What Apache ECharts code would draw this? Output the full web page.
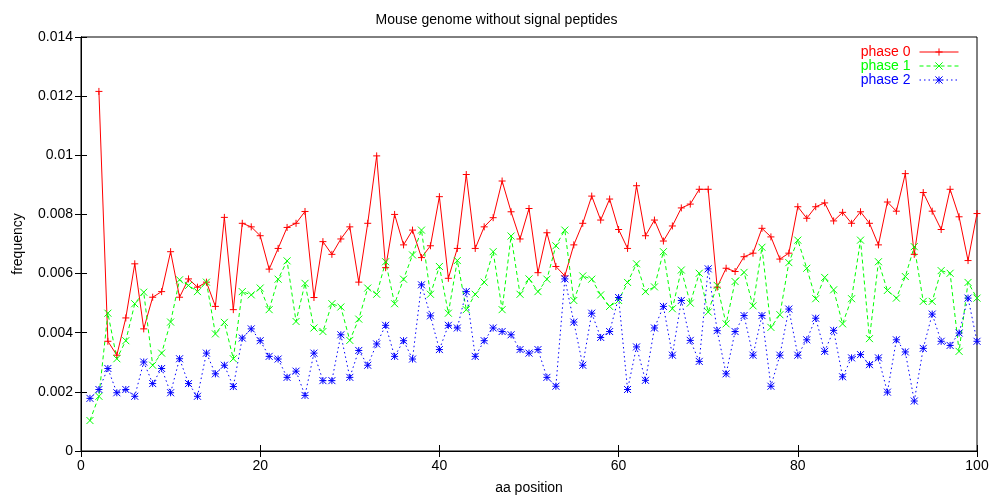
<!DOCTYPE html>
<html>
<head>
<meta charset="utf-8">
<title>Mouse genome without signal peptides</title>
<script src="https://cdn.jsdelivr.net/npm/echarts@6/dist/echarts.min.js"></script>
<style>
  html, body { margin: 0; padding: 0; background: #fff; }
  #chart { width: 993px; height: 500px; }
</style>
</head>
<body>
<div id="chart"></div>
<script>
// Codon-phase frequencies along the first 100 amino-acid positions.
const firstPosition = 1;
const xTicks = [0, 20, 40, 60, 80, 100];
const yTicks = [0, 0.002, 0.004, 0.006, 0.008, 0.01, 0.012, 0.014];

const seriesNames = ['phase 0', 'phase 1', 'phase 2'];

const phase0 = [
  null, 0.01216, 0.00371, 0.00324, 0.00450, 0.00633, 0.00413, 0.00520, 0.00539, 0.00674,
  0.00520, 0.00582, 0.00554, 0.00571, 0.00489, 0.00790, 0.00478, 0.00770, 0.00758, 0.00728,
  0.00615, 0.00685, 0.00756, 0.00770, 0.00810, 0.00519, 0.00708, 0.00665, 0.00717, 0.00758,
  0.00571, 0.00770, 0.00998, 0.00620, 0.00800, 0.00697, 0.00747, 0.00654, 0.00694, 0.00860,
  0.00584, 0.00685, 0.00935, 0.00685, 0.00758, 0.00789, 0.00913, 0.00809, 0.00717, 0.00820,
  0.00603, 0.00738, 0.00624, 0.00592, 0.00697, 0.00770, 0.00862, 0.00781, 0.00852, 0.00749,
  0.00685, 0.00897, 0.00728, 0.00781, 0.00710, 0.00761, 0.00822, 0.00835, 0.00885, 0.00885,
  0.00554, 0.00618, 0.00607, 0.00657, 0.00669, 0.00753, 0.00724, 0.00649, 0.00669, 0.00826,
  0.00787, 0.00826, 0.00839, 0.00778, 0.00807, 0.00770, 0.00809, 0.00770, 0.00697, 0.00842,
  0.00811, 0.00938, 0.00665, 0.00874, 0.00811, 0.00749, 0.00885, 0.00792, 0.00644, 0.00803
];

const phase1 = [
  0.00103, 0.00185, 0.00466, 0.00312, 0.00373, 0.00498, 0.00537, 0.00290, 0.00331, 0.00436,
  0.00579, 0.00560, 0.00539, 0.00571, 0.00396, 0.00435, 0.00312, 0.00539, 0.00528, 0.00551,
  0.00478, 0.00581, 0.00643, 0.00438, 0.00567, 0.00416, 0.00404, 0.00498, 0.00487, 0.00374,
  0.00446, 0.00551, 0.00530, 0.00640, 0.00498, 0.00581, 0.00663, 0.00747, 0.00530, 0.00624,
  0.00466, 0.00644, 0.00478, 0.00530, 0.00571, 0.00674, 0.00478, 0.00727, 0.00530, 0.00582,
  0.00539, 0.00581, 0.00694, 0.00747, 0.00509, 0.00592, 0.00581, 0.00528, 0.00489, 0.00509,
  0.00570, 0.00633, 0.00539, 0.00555, 0.00674, 0.00481, 0.00612, 0.00500, 0.00601, 0.00470,
  0.00560, 0.00430, 0.00573, 0.00604, 0.00491, 0.00689, 0.00418, 0.00461, 0.00637, 0.00713,
  0.00618, 0.00515, 0.00587, 0.00545, 0.00430, 0.00515, 0.00713, 0.00380, 0.00640, 0.00543,
  0.00517, 0.00590, 0.00691, 0.00506, 0.00506, 0.00610, 0.00601, 0.00337, 0.00570, 0.00517
];

const phase2 = [
  0.00178, 0.00208, 0.00279, 0.00197, 0.00208, 0.00185, 0.00301, 0.00228, 0.00279, 0.00197,
  0.00312, 0.00228, 0.00185, 0.00331, 0.00261, 0.00290, 0.00218, 0.00382, 0.00413, 0.00373,
  0.00320, 0.00311, 0.00249, 0.00270, 0.00188, 0.00331, 0.00238, 0.00238, 0.00393, 0.00249,
  0.00340, 0.00290, 0.00362, 0.00425, 0.00320, 0.00373, 0.00311, 0.00562, 0.00457, 0.00343,
  0.00425, 0.00416, 0.00539, 0.00320, 0.00373, 0.00416, 0.00404, 0.00393, 0.00343, 0.00331,
  0.00343, 0.00249, 0.00219, 0.00582, 0.00436, 0.00290, 0.00466, 0.00384, 0.00404, 0.00519,
  0.00208, 0.00352, 0.00239, 0.00416, 0.00489, 0.00324, 0.00509, 0.00374, 0.00303, 0.00616,
  0.00407, 0.00261, 0.00404, 0.00458, 0.00324, 0.00458, 0.00219, 0.00324, 0.00480, 0.00324,
  0.00376, 0.00449, 0.00337, 0.00408, 0.00251, 0.00315, 0.00326, 0.00292, 0.00315, 0.00199,
  0.00376, 0.00335, 0.00169, 0.00347, 0.00463, 0.00371, 0.00357, 0.00399, 0.00517, 0.00371
];

const seriesColors = ['#ff0000', '#00ff00', '#0000ff'];
const seriesDash = ['solid', [4, 3], [1.5, 3]];
const markerPaths = [
  'path://M0,5L10,5M5,0L5,10',
  'path://M0,0L10,10M10,0L0,10',
  'path://M0,5L10,5M5,0L5,10M0,0L10,10M10,0L0,10'
];

const FONT = 'Liberation Sans, Arial, Helvetica, sans-serif';
const FS = 14;

function toPairs(values) {
  return values.map((v, i) => [i + firstPosition, v]);
}

const seriesValues = [phase0, phase1, phase2];

const series = seriesValues.map((vals, k) => ({
  name: seriesNames[k],
  type: 'line',
  xAxisIndex: 0,
  yAxisIndex: 0,
  data: toPairs(vals),
  connectNulls: false,
  symbol: markerPaths[k],
  symbolSize: 7,
  showAllSymbol: true,
  animation: false,
  silent: true,
  lineStyle: { color: seriesColors[k], width: 1, type: seriesDash[k] },
  itemStyle: { color: seriesColors[k], borderColor: seriesColors[k], borderWidth: 1, borderType: 'solid' },
  emphasis: { disabled: true }
}));

const yFmt = v => String(+(+v).toFixed(3));

const chart = echarts.init(document.getElementById('chart'), null, { renderer: 'canvas' });
chart.setOption({
  backgroundColor: '#ffffff',
  animation: false,
  textStyle: { fontFamily: FONT, fontSize: FS, color: '#000' },
  title: {
    text: 'Mouse genome without signal peptides',
    left: 'center',
    top: 8,
    textStyle: { fontFamily: FONT, fontSize: FS, fontWeight: 'normal', color: '#000' }
  },
  legend: {
    orient: 'vertical',
    right: 29,
    top: 40,
    align: 'right',
    itemWidth: 39,
    itemHeight: 9,
    itemGap: 0,
    selectedMode: false,
    lineStyle: { width: 1 },
    itemStyle: { borderWidth: 1 },
    data: seriesNames.map((n, k) => ({ name: n, textStyle: { color: seriesColors[k] } })),
    textStyle: { fontFamily: FONT, fontSize: FS, lineHeight: 14, padding: [0, 4, 0, 0] }
  },
  grid: {
    left: 81, right: 16, top: 37, bottom: 48,
    show: true, borderColor: '#000', borderWidth: 1, backgroundColor: 'transparent'
  },
  xAxis: [
    {
      type: 'value', min: xTicks[0], max: xTicks[xTicks.length - 1], interval: 20,
      position: 'bottom',
      name: 'aa position', nameLocation: 'middle', nameGap: 30,
      nameTextStyle: { fontFamily: FONT, fontSize: FS, color: '#000' },
      axisLine: { show: true, lineStyle: { color: '#000', width: 1 } },
      axisTick: { show: true, inside: true, length: 6, lineStyle: { color: '#000' } },
      axisLabel: { show: true, margin: 8, color: '#000', fontFamily: FONT, fontSize: FS },
      splitLine: { show: false }
    },
    {
      type: 'value', min: xTicks[0], max: xTicks[xTicks.length - 1], interval: 20,
      position: 'top',
      axisLine: { show: true, lineStyle: { color: '#000', width: 1 } },
      axisTick: { show: true, inside: true, length: 6, lineStyle: { color: '#000' } },
      axisLabel: { show: false },
      splitLine: { show: false }
    }
  ],
  yAxis: [
    {
      type: 'value', min: yTicks[0], max: yTicks[yTicks.length - 1], interval: 0.002,
      position: 'left',
      name: 'frequency', nameLocation: 'middle', nameGap: 56, nameRotate: 90,
      nameTextStyle: { fontFamily: FONT, fontSize: FS, color: '#000' },
      axisLine: { show: true, lineStyle: { color: '#000', width: 1 } },
      axisTick: { show: true, inside: true, length: 6, lineStyle: { color: '#000' } },
      axisLabel: { show: true, margin: 8, color: '#000', fontFamily: FONT, fontSize: FS, formatter: yFmt },
      splitLine: { show: false }
    },
    {
      type: 'value', min: yTicks[0], max: yTicks[yTicks.length - 1], interval: 0.002,
      position: 'right',
      axisLine: { show: true, lineStyle: { color: '#000', width: 1 } },
      axisTick: { show: true, inside: true, length: 6, lineStyle: { color: '#000' } },
      axisLabel: { show: false },
      splitLine: { show: false }
    }
  ],
  series: series
});
</script>
</body>
</html>
